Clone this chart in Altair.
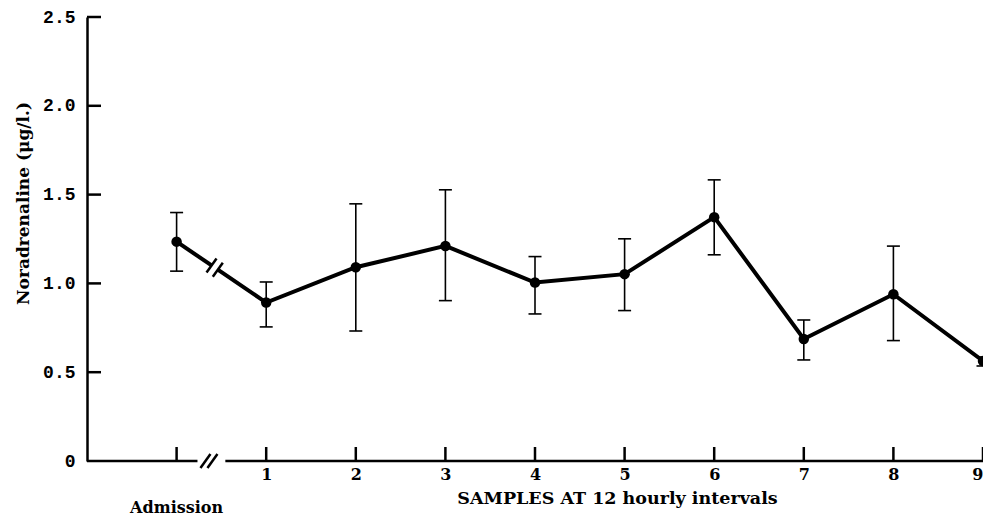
import altair as alt
import pandas as pd

# ---- data ----
sample_index = [0, 1, 2, 3, 4, 5, 6, 7, 8, 9]          # 0 = Admission
mean_values = [1.235, 0.892, 1.091, 1.211, 1.005, 1.052, 1.373, 0.687, 0.939, 0.563]
upper_values = [1.399, 1.008, 1.448, 1.527, 1.151, 1.251, 1.583, 0.794, 1.210, 0.585]
lower_values = [1.069, 0.755, 0.732, 0.903, 0.828, 0.847, 1.161, 0.569, 0.678, 0.535]
x_tick_values = [0, 1, 2, 3, 4, 5, 6, 7, 8, 9]
x_label_values = [1, 2, 3, 4, 5, 6, 7, 8, 9]
y_tick_values = [0.5, 1.0, 1.5, 2.0, 2.5]
y_label_values = [0, 0.5, 1.0, 1.5, 2.0, 2.5]

X_DOMAIN = [-1, 9]
Y_DOMAIN = [0, 2.5]
W, H = 896, 444
DX = (X_DOMAIN[1] - X_DOMAIN[0]) / W   # data units per pixel
DY = (Y_DOMAIN[1] - Y_DOMAIN[0]) / H

FONT = "DejaVu Serif"
INK = "black"

xs = alt.Scale(domain=X_DOMAIN, nice=False, zero=False)
ys = alt.Scale(domain=Y_DOMAIN, nice=False, zero=False)

# ---- line with a break between admission and sample 1 ----
BREAK_A, BREAK_B = 0.39, 0.46


def on_first_leg(t):
    return mean_values[0] + (mean_values[1] - mean_values[0]) * t


line_rows = [
    {"x": sample_index[0], "y": mean_values[0], "seg": "a", "o": 0},
    {"x": BREAK_A, "y": on_first_leg(BREAK_A), "seg": "a", "o": 1},
    {"x": BREAK_B, "y": on_first_leg(BREAK_B), "seg": "b", "o": 0},
]
for i, (s, m) in enumerate(zip(sample_index[1:], mean_values[1:])):
    line_rows.append({"x": s, "y": m, "seg": "b", "o": i + 1})
line_df = pd.DataFrame(line_rows)

x_axis = alt.Axis(
    values=x_label_values, format="d",
    labelFont=FONT, labelFontWeight="bold", labelFontSize=16,
    labelPadding=5, labelFlush=True, labelOverlap=False, labelBound=False,
    title="SAMPLES AT 12 hourly intervals", titleFont=FONT, titleFontSize=17.5,
    titleFontWeight="bold", titleX=530, titleY=37,
    titleAlign="center", titleBaseline="middle",
)
y_axis = alt.Axis(
    values=y_label_values,
    labelExpr="datum.value == 0 ? '0' : format(datum.value, '.1f')",
    labelFont="Liberation Mono", labelFontWeight="bold", labelFontSize=18,
    labelPadding=12, labelFlush=False, labelOverlap=False,
    title="Noradrenaline (\u03bcg/l.)", titleFont=FONT, titleFontSize=17,
    titleFontWeight="bold", titleX=-64, titleY=186,
    titleAngle=270, titleAlign="center", titleBaseline="middle",
)

X = lambda f: alt.X(f, scale=xs)
Y = lambda f: alt.Y(f, scale=ys)

line = alt.Chart(line_df).mark_line(color=INK, strokeWidth=4).encode(
    x=alt.X("x:Q", scale=xs, axis=x_axis),
    y=alt.Y("y:Q", scale=ys, axis=y_axis),
    detail="seg:N",
    order="o:Q",
)

# slashes on the data line
sl_dx, sl_dy = 5 * DX, 7 * DY
line_slash_df = pd.DataFrame([
    {"x": b - sl_dx, "x2": b + sl_dx, "y": on_first_leg(b) - sl_dy, "y2": on_first_leg(b) + sl_dy}
    for b in (BREAK_A, BREAK_B)
])
line_slashes = alt.Chart(line_slash_df).mark_rule(color=INK, strokeWidth=2.5).encode(
    x=X("x:Q"), x2="x2:Q", y=Y("y:Q"), y2="y2:Q",
)

# x axis line with break
AX_A, AX_B = 0.233, 0.544
axis_seg_df = pd.DataFrame([
    {"x": X_DOMAIN[0], "x2": AX_A, "y": 0.0},
    {"x": AX_B, "x2": X_DOMAIN[1], "y": 0.0},
])
axis_segs = alt.Chart(axis_seg_df).mark_rule(color=INK, strokeWidth=2.5).encode(
    x=X("x:Q"), x2="x2:Q", y=Y("y:Q"),
)
axis_slash_df = pd.DataFrame([
    {"x": c - sl_dx, "x2": c + sl_dx, "y": -sl_dy, "y2": sl_dy}
    for c in (0.322, 0.40)
])
axis_slashes = alt.Chart(axis_slash_df).mark_rule(color=INK, strokeWidth=2.5).encode(
    x=X("x:Q"), x2="x2:Q", y=Y("y:Q"), y2="y2:Q",
)

# inward ticks
TICK = 14
xtick_df = pd.DataFrame({"x": x_tick_values, "y": [0.0] * len(x_tick_values),
                         "y2": [TICK * DY] * len(x_tick_values)})
xticks = alt.Chart(xtick_df).mark_rule(color=INK, strokeWidth=2.5).encode(
    x=X("x:Q"), y=Y("y:Q"), y2="y2:Q",
)
ytick_df = pd.DataFrame({"y": y_tick_values, "x": [X_DOMAIN[0]] * len(y_tick_values),
                         "x2": [X_DOMAIN[0] + TICK * DX] * len(y_tick_values)})
yticks = alt.Chart(ytick_df).mark_rule(color=INK, strokeWidth=2.5).encode(
    x=X("x:Q"), x2="x2:Q", y=Y("y:Q"),
)

# error bars
err_df = pd.DataFrame({"x": sample_index, "y": mean_values,
                       "hi": upper_values, "lo": lower_values})
err_rules = alt.Chart(err_df).mark_rule(color=INK, strokeWidth=1.6, clip=True).encode(
    x=X("x:Q"), y=Y("lo:Q"), y2="hi:Q",
)
cap_hi = alt.Chart(err_df).mark_tick(color=INK, orient="horizontal", size=13,
                                     thickness=1.6, clip=True, opacity=1).encode(
    x=X("x:Q"), y=Y("hi:Q"),
)
cap_lo = alt.Chart(err_df).mark_tick(color=INK, orient="horizontal", size=13,
                                     thickness=1.6, clip=True, opacity=1).encode(
    x=X("x:Q"), y=Y("lo:Q"),
)
points = alt.Chart(err_df).mark_circle(color=INK, size=110, opacity=1, clip=True).encode(
    x=X("x:Q"), y=Y("y:Q"),
)

adm_df = pd.DataFrame({"x": [sample_index[0]], "label": ["Admission"]})
admission = alt.Chart(adm_df).mark_text(
    font=FONT, fontWeight="bold", fontSize=16, color=INK, baseline="middle", align="center"
).encode(
    x=X("x:Q"),
    y=alt.value(491),
    text="label:N",
)

chart = alt.layer(
    line, axis_segs, axis_slashes, xticks, yticks, line_slashes,
    err_rules, cap_hi, cap_lo, points, admission,
).properties(
    width=W, height=H,
    autosize=alt.AutoSizeParams(type="none"),
    padding={"left": 79, "top": 9, "right": 0, "bottom": 59},
    background="white",
).configure_view(
    stroke=None
).configure_axis(
    grid=False, ticks=False, tickSize=0, labelColor=INK, titleColor=INK,
).configure_axisX(
    domain=False,
).configure_axisY(
    domain=True, domainColor=INK, domainWidth=2.5,
)

chart.save("out.html", embed_options={"renderer": "svg", "actions": False})
